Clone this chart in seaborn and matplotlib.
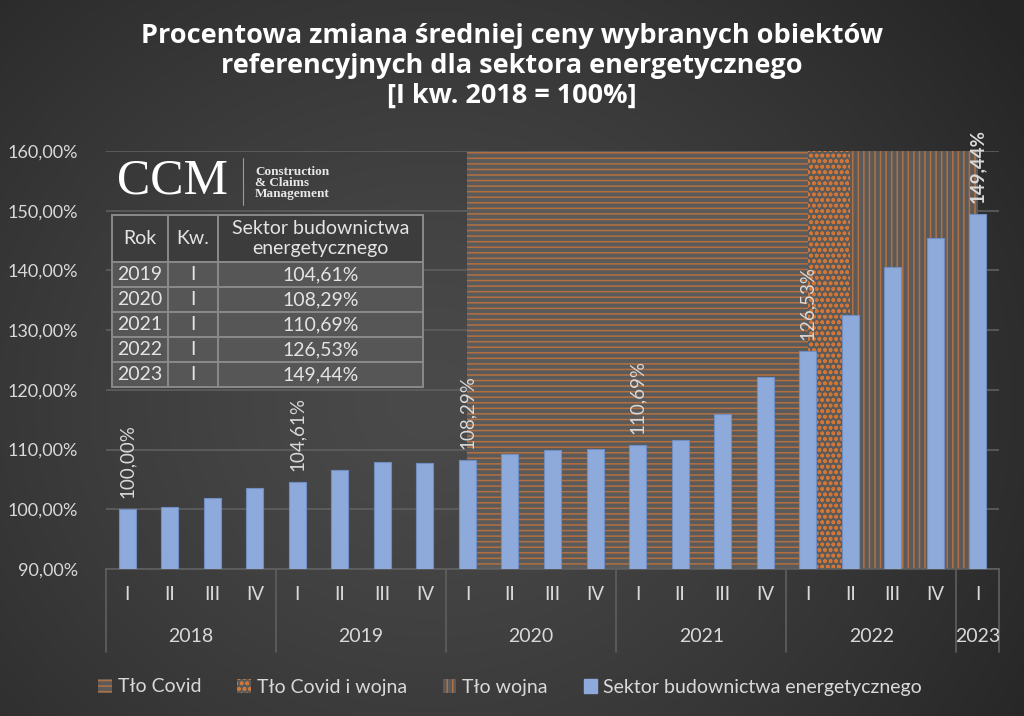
import numpy as np
import pandas as pd
import matplotlib
matplotlib.use("Agg")
import matplotlib.pyplot as plt
import matplotlib.transforms as mtrans
from matplotlib.patches import Patch
import seaborn as sns

# ---------------- data ----------------
years = ["2018"] * 4 + ["2019"] * 4 + ["2020"] * 4 + ["2021"] * 4 + ["2022"] * 4 + ["2023"]
quarters = ["I", "II", "III", "IV"] * 5 + ["I"]
values = [100.00, 100.40, 101.90, 103.60,
          104.61, 106.50, 107.95, 107.70,
          108.29, 109.20, 109.85, 110.10,
          110.69, 111.55, 115.90, 122.15,
          126.53, 132.60, 140.60, 145.40,
          149.44]
series_name = "Sektor budownictwa energetycznego"
bg_names = ["Tło Covid", "Tło Covid i wojna", "Tło wojna"]
bg_spans = [(("2020", "I"), ("2022", "I")),
            (("2022", "I"), ("2022", "II")),
            (("2022", "II"), ("2023", "I"))]
bg_level = 160.0
y_ticks = [90, 100, 110, 120, 130, 140, 150, 160]
title = ("Procentowa zmiana średniej ceny wybranych obiektów\n"
         "referencyjnych dla sektora energetycznego\n[I kw. 2018 = 100%]")
table_header = ["Rok", "Kw.", "Sektor budownictwa\nenergetycznego"]
table_years = ["2019", "2020", "2021", "2022", "2023"]

# ---------------- style ----------------
sns.set_theme(style="dark")
plt.rcParams["font.family"] = ["Lato", "DejaVu Sans"]
plt.rcParams["hatch.linewidth"] = 1.1
TXT = "#d9d9d9"
BAR = "#8eaadb"
ORANGE_SOFT = (0.93, 0.49, 0.19, 0.62)
ORANGE_MID = (0.93, 0.49, 0.19, 0.8)
FILL = "#5a5a5a"
GRID = "#5f5f5f"

def fmt(v):
    return f"{v:.2f}%".replace(".", ",")

df = pd.DataFrame({"year": years, "q": quarters, "value": values})
df["cat"] = df["year"] + " " + df["q"]

W, H = 1024, 716
fig = plt.figure(figsize=(W / 100, H / 100), dpi=100)

# background radial gradient
bgax = fig.add_axes([0, 0, 1, 1], zorder=-10)
bgax.axis("off")
yy, xx = np.mgrid[0:H, 0:W]
d = np.hypot((xx - 430) / 1.0, (yy - 400) / 0.9) / 720.0
d = np.clip(d, 0, 1) ** 1.3
c0 = np.array([0x4a, 0x4a, 0x4a]) / 255.0
c1 = np.array([0x25, 0x25, 0x25]) / 255.0
img = c0[None, None, :] * (1 - d[..., None]) + c1[None, None, :] * d[..., None]
bgax.imshow(img, extent=[0, 1, 0, 1], aspect="auto", interpolation="bilinear")

# main axes
L, R, B, T = 106, 999, 569, 151
ax = fig.add_axes([L / W, 1 - B / H, (R - L) / W, (B - T) / H])
ax.set_facecolor("none")

sns.barplot(data=df, x="cat", y="value", color=BAR, width=0.4, saturation=1,
            edgecolor="#6f8fc4", linewidth=0.8, ax=ax, zorder=3)

# background areas
hatches = ["---", "ooo", "|||"]
hatch_cols = [ORANGE_SOFT, ORANGE_MID, ORANGE_SOFT]
cat_index = {(y, q): i for i, (y, q) in enumerate(zip(years, quarters))}
for (s, e), h, hc in zip(bg_spans, hatches, hatch_cols):
    i0, i1 = cat_index[s], cat_index[e]
    xs = np.arange(i0, i1 + 1)
    ax.fill_between(xs, y_ticks[0], bg_level, facecolor=FILL, edgecolor=hc,
                    hatch=h, linewidth=0, zorder=1)

ax.set_xlim(-0.5, len(values) - 0.5)
ax.set_ylim(y_ticks[0], y_ticks[-1])
ax.set_yticks(y_ticks)
ax.set_yticklabels([fmt(v) for v in y_ticks], color=TXT, fontsize=13)
ax.tick_params(axis="y", length=0, pad=20)
ax.yaxis.grid(True, color=GRID, linewidth=1.2, zorder=0)
ax.set_axisbelow(True)
ax.set_xticks([])
ax.set_xlabel("")
ax.set_ylabel("")
for sp in ["top", "right", "left"]:
    ax.spines[sp].set_visible(False)
ax.spines["bottom"].set_color(GRID)
ax.spines["bottom"].set_linewidth(1.2)

# two-level category axis
blend = mtrans.blended_transform_factory(ax.transData, ax.transAxes)
ph = B - T
for i, q in enumerate(quarters):
    ax.text(i, -26 / ph, q, transform=blend, ha="center", va="center",
            color=TXT, fontsize=13.5)
uniq_years = list(dict.fromkeys(years))
bounds = [-0.5]
for y in uniq_years:
    idx = [i for i, yv in enumerate(years) if yv == y]
    ax.text(np.mean(idx), -68 / ph, y, transform=blend, ha="center", va="center",
            color=TXT, fontsize=14)
    bounds.append(idx[-1] + 0.5)
for b in bounds:
    ax.plot([b, b], [0, -83 / ph], transform=blend, color=GRID, linewidth=1.2,
            clip_on=False)

# data labels on first quarters
for i, (q, v) in enumerate(zip(quarters, values)):
    if q == "I":
        last = i == len(values) - 1
        ax.annotate(fmt(v), (i, v), xytext=(0, 8), textcoords="offset points",
                    rotation=90, ha="center", va="bottom", color=TXT, fontsize=13.5,
                    fontweight="bold" if last else "normal", zorder=5)

# title
fig.text(0.5, 1 - 66 / H, title, ha="center", va="center", color="white",
         fontfamily=["Open Sans", "DejaVu Sans"],
         fontsize=19.5, fontweight="bold", linespacing=1.18)

# logo
fig.text(117 / W, 1 - 181 / H, "CCM", fontfamily="Liberation Serif", fontsize=36,
         color="white", ha="left", va="center")
fig.add_artist(plt.Line2D([243 / W, 243 / W], [1 - 158 / H, 1 - 205 / H],
                          color="#9a9a9a", linewidth=0.8))
fig.text(255 / W, 1 - 183 / H, "Construction\n& Claims\nManagement",
         fontfamily="Liberation Serif", fontsize=9.5, fontweight="bold",
         color="#e8e8e8", ha="left", va="center", linespacing=0.85)

# table
tab_rows = []
for y in table_years:
    i = cat_index[(y, "I")]
    tab_rows.append([y, "I", fmt(values[i])])
tx0, tx1, ty0, ty1 = 112, 423, 215, 387
tax = fig.add_axes([tx0 / W, 1 - ty1 / H, (tx1 - tx0) / W, (ty1 - ty0) / H])
tax.axis("off")
colw = np.array([56, 50, 205]) / 311
head_h = 47 / 172
row_h = (1 - head_h) / len(tab_rows)
tbl = tax.table(cellText=tab_rows, colLabels=table_header, colWidths=list(colw),
                cellLoc="center", bbox=[0, 0, 1, 1])
tbl.auto_set_font_size(False)
for (r, c), cell in tbl.get_celld().items():
    cell.set_edgecolor("#8a8a8a")
    cell.set_linewidth(1.4)
    cell.get_text().set_color("#e4e4e4")
    cell.get_text().set_fontsize(14)
    if r == 0:
        cell.set_facecolor("#3c3c3c")
        cell.set_height(head_h)
    else:
        cell.set_facecolor("#565656")
        cell.set_height(row_h)

# legend
handles = [Patch(facecolor=FILL, edgecolor=hc, hatch=h, linewidth=0, label=n)
           for h, hc, n in zip(hatches, hatch_cols, bg_names)]
handles.append(Patch(facecolor=BAR, edgecolor=BAR, label=series_name))
leg = fig.legend(handles=handles, loc="center", bbox_to_anchor=(0.498, 1 - 687 / H),
                 ncol=4, frameon=False, fontsize=14, labelcolor=TXT,
                 handlelength=0.7, handleheight=0.7, handletextpad=0.3,
                 columnspacing=1.85)

fig.savefig("out.png", dpi=100)
